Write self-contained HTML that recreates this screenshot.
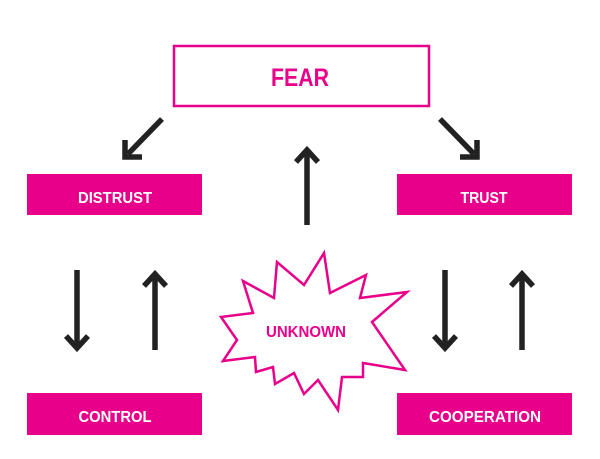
<!DOCTYPE html>
<html><head><style>
body{margin:0;background:#fff;}
svg{display:block;}
text{font-family:"Liberation Sans",sans-serif;font-weight:bold;}
</style></head><body>
<svg width="600" height="459" viewBox="0 0 600 459">
<rect x="174" y="46" width="255" height="60" fill="#fff" stroke="#e8008a" stroke-width="2.5"/>
<text x="300" y="86" fill="#e8008a" font-size="25" text-anchor="middle" textLength="58" lengthAdjust="spacingAndGlyphs">FEAR</text>
<rect x="27" y="174" width="175" height="41" fill="#e8008a"/>
<text x="115" y="203" fill="#fff" font-size="16" text-anchor="middle" textLength="74" lengthAdjust="spacingAndGlyphs">DISTRUST</text>
<rect x="397" y="174" width="175" height="41" fill="#e8008a"/>
<text x="484" y="203" fill="#fff" font-size="16" text-anchor="middle" textLength="47" lengthAdjust="spacingAndGlyphs">TRUST</text>
<rect x="27" y="393" width="175" height="42" fill="#e8008a"/>
<text x="115" y="422" fill="#fff" font-size="16" text-anchor="middle" textLength="73" lengthAdjust="spacingAndGlyphs">CONTROL</text>
<rect x="397" y="393" width="175" height="42" fill="#e8008a"/>
<text x="485" y="422" fill="#fff" font-size="16" text-anchor="middle" textLength="112" lengthAdjust="spacingAndGlyphs">COOPERATION</text>
<polygon points="324,253 304,285 277,262 274,298 243,281 253,313 221,317 237,340 223,361 255,357 256,372 273,367 275,384 294,373 304,394 318,380 338,410 342,377 363,377 363,363 405,370 372,322 407,292 360,298 366,275 330,293" fill="#fff" stroke="#e8008a" stroke-width="2.5"/>
<text x="306" y="337" fill="#e8008a" font-size="16" text-anchor="middle" textLength="80" lengthAdjust="spacingAndGlyphs">UNKNOWN</text>
<g stroke="#222" stroke-width="5.5" fill="none" stroke-linecap="butt">
<line x1="162" y1="119" x2="128" y2="154"/>
<polyline points="125,140 125,157 142,157"/>
<line x1="440" y1="119" x2="474" y2="154"/>
<polyline points="460,157 477,157 477,140"/>
<line x1="307" y1="225" x2="307" y2="152"/>
<polyline points="296,162 307,150 318,162"/>
<line x1="77" y1="270" x2="77" y2="346"/>
<polyline points="66,336 77,348 88,336"/>
<line x1="155" y1="350" x2="155" y2="276"/>
<polyline points="144,286 155,274 166,286"/>
<line x1="445" y1="270" x2="445" y2="346"/>
<polyline points="434,336 445,348 456,336"/>
<line x1="522" y1="350" x2="522" y2="276"/>
<polyline points="511,286 522,274 533,286"/>
</g>
</svg>
</body></html>
